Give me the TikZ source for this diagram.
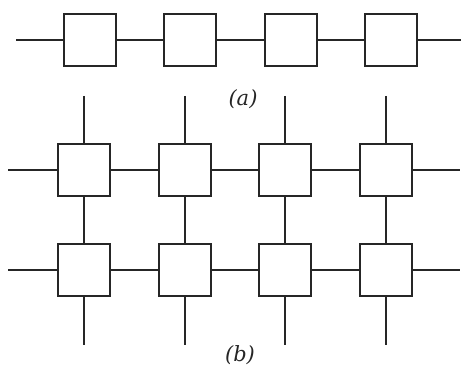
\documentclass[tikz,border=0pt]{standalone}
\usepackage{fontspec}
\newfontfamily\lblfont{DejaVu Serif}
\begin{document}
\begin{tikzpicture}[x=1pt,y=-1pt,
  box/.style={draw=black!85,line width=1.6pt,minimum size=52pt,inner sep=0pt,fill=white},
  wire/.style={draw=black!85,line width=1.6pt},
  lbl/.style={font=\lblfont\fontsize{21}{24}\selectfont\itshape,text=black!85}]
\useasboundingbox (0,0) rectangle (462,371);
% (a)
\foreach \i/\x in {1/90,2/190,3/291,4/391}{\node[box] (a\i) at (\x,40) {};}
\coordinate (aL) at (16,40);
\coordinate (aR) at (461,40);
\draw[wire] (aL) -- (a1) (a1) -- (a2) (a2) -- (a3) (a3) -- (a4) (a4) -- (aR);
\node[lbl] (la) at (243,99) {(a)};
% (b)
\foreach \i/\x in {1/84,2/185,3/285,4/386}{
  \node[box] (t\i) at (\x,170) {};
  \node[box] (b\i) at (\x,270) {};
  \coordinate (u\i) at (\x,96);
  \coordinate (d\i) at (\x,345);
}
\coordinate (tL) at (8,170); \coordinate (tR) at (460,170);
\coordinate (bL) at (8,270); \coordinate (bR) at (460,270);
\draw[wire] (tL) -- (t1) (t1) -- (t2) (t2) -- (t3) (t3) -- (t4) (t4) -- (tR);
\draw[wire] (bL) -- (b1) (b1) -- (b2) (b2) -- (b3) (b3) -- (b4) (b4) -- (bR);
\foreach \i in {1,2,3,4}{
  \draw[wire] (u\i) -- (t\i) (t\i) -- (b\i) (b\i) -- (d\i);
}
\node[lbl] (lb) at (240,355) {(b)};
\end{tikzpicture}
\end{document}
